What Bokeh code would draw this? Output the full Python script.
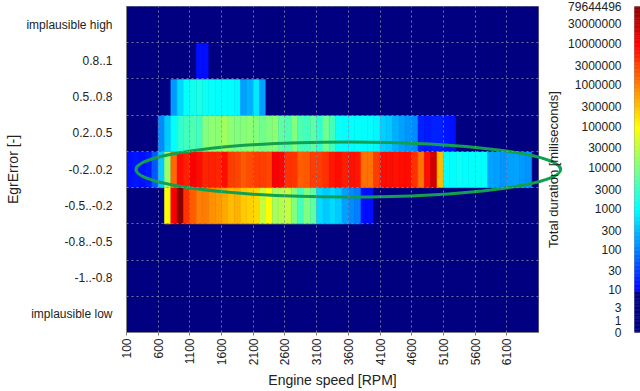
import numpy as np
from bokeh.plotting import figure
from bokeh.models import (FactorRange, Range1d, FixedTicker, LinearColorMapper,
                          ColumnDataSource, CustomJSTickFormatter)
from bokeh.core.properties import value
from bokeh.layouts import row
from bokeh.embed import file_html
from bokeh.resources import INLINE

# ---------------- data ----------------
RPM_START = 100
RPM_BIN = 100
N_BINS = 65  # 100 .. 6600 RPM
RPM_END = RPM_START + RPM_BIN * N_BINS

categories = ["implausible low", "-1..-0.8", "-0.8..-0.5", "-0.5..-0.2",
              "-0.2..0.2", "0.2..0.5", "0.5..0.8", "0.8..1", "implausible high"]

x_ticks = [100, 600, 1100, 1600, 2100, 2600, 3100, 3600, 4100, 4600, 5100, 5600, 6100]

cb_ticks = [0, 1, 3, 10, 30, 100, 300, 1000, 3000, 10000, 30000, 100000, 300000,
            1000000, 3000000, 10000000, 30000000, 79644496]

# total duration [ms] per 100-RPM bin (bins start at 100, 200, ... 6500)
row_implausible_low = [0] * 65
row_m1_m08 = [0] * 65
row_m08_m05 = [0] * 65
row_m05_m02 = [0, 0, 0, 0, 0, 0, 1e5, 1e7, 79644496, 4.2e6,
               1.8e6, 1e6, 1e6, 7.4e5, 6.4e5, 4.8e5, 3.2e5, 4.2e5, 2.7e5, 2.3e5,
               2e5, 3.2e4, 1e5, 1.8e4, 2.4e4, 3.2e4, 1e4, 3200, 1e4, 5600,
               560, 370, 560, 370, 180, 130, 100, 12, 12, 2,
               2, 2, 0, 0, 0, 0, 0, 0, 0, 0,
               0, 0, 0, 0, 0, 0, 0, 0, 0, 0,
               0, 0, 0, 0, 0]
row_m02_02 = [12, 14, 13, 15, 50, 400, 15000, 1.5e6, 7.5e6, 5.6e6,
              1e7, 7.5e6, 4.9e6, 5.6e6, 4.9e6, 7.5e6, 3.2e6, 2.8e6, 2.0e6, 2.4e6,
              3.2e6, 3.2e6, 2.8e6, 1e7, 8.7e6, 4.2e6, 3.7e6, 1.8e6, 2.0e6, 3.2e6,
              3.2e6, 4.2e6, 6.5e6, 7.5e6, 6e6, 7e6, 6.5e6, 1.3e6, 1.3e6, 3.2e6,
              7.5e6, 8e6, 7e6, 7.5e6, 8e6, 4.2e6, 1.3e6, 7.5e6, 2.3e7, 3.2e5,
              1100, 1000, 1200, 1000, 1000, 1100, 1000, 200, 180, 150,
              180, 200, 160, 150, 0]
row_02_05 = [0, 0, 0, 0, 0, 130, 370, 1000, 2400, 3200,
             4200, 3200, 1e4, 1.3e4, 1.3e4, 1.8e4, 1.3e4, 1e4, 1.15e4, 1.3e4,
             1e4, 7500, 1e4, 1.3e4, 5600, 4200, 1e4, 4200, 3200, 5600,
             2400, 8000, 3200, 1200, 1000, 1000, 1100, 1000, 1000, 900,
             430, 370, 250, 180, 150, 130, 17, 15, 18, 17,
             14, 13, 5, 5, 2, 2, 0, 0, 0, 0,
             0, 0, 0, 0, 0]
row_05_08 = [0, 0, 0, 0, 0, 0, 0, 160, 500, 1100,
             1400, 1600, 1300, 1100, 1000, 1000, 1000, 900, 180, 240,
             650, 180, 0, 0, 0, 0, 0, 0, 0, 0,
             0, 0, 0, 0, 0, 0, 0, 0, 0, 0,
             0, 0, 0, 0, 0, 0, 0, 0, 0, 0,
             0, 0, 0, 0, 0, 0, 0, 0, 0, 0,
             0, 0, 0, 0, 0]
row_08_1 = [0] * 11 + [12, 12] + [0] * 52
row_implausible_high = [0] * 65

row_values = [row_implausible_low, row_m1_m08, row_m08_m05, row_m05_m02,
              row_m02_02, row_02_05, row_05_08, row_08_1, row_implausible_high]

# highlight ellipse (data units)
ELLIPSE_CENTER_RPM = 3600
ELLIPSE_ROW = "-0.2..0.2"
ELLIPSE_WIDTH_RPM = 6700
ELLIPSE_HEIGHT_ROWS = 1.52

CB_TITLE = "Total duration [miliseconds]"

# ---------------- colour mapping (jet on log10(1+v)) ----------------
def jet_hex(t):
    r = min(max(1.5 - abs(4 * t - 3), 0), 1)
    g = min(max(1.5 - abs(4 * t - 2), 0), 1)
    b = min(max(1.5 - abs(4 * t - 1), 0), 1)
    return "#%02x%02x%02x" % (int(round(r * 255)), int(round(g * 255)), int(round(b * 255)))

palette = []
for i in range(256):
    t = i / 255
    palette.append("#000080" if t < 0.125 else jet_hex(t))
mapper = LinearColorMapper(palette=palette, low=0, high=8)

FONT = "Liberation Sans"
TXT = "#222222"

xs, ys, zs = [], [], []
for cat, vals in zip(categories, row_values):
    for k, v in enumerate(vals):
        xs.append(RPM_START + RPM_BIN * (k + 0.5))
        ys.append(cat)
        zs.append(float(np.log10(1 + v)))
src = ColumnDataSource(dict(x=xs, y=ys, z=zs))

H = 391
TOP = 6
BOTTOM = 54

p = figure(width=565, height=H, x_range=Range1d(RPM_START, RPM_END),
           y_range=FactorRange(factors=categories), output_backend="svg",
           toolbar_location=None, min_border_left=126, min_border_right=27,
           min_border_top=TOP, min_border_bottom=BOTTOM)
p.background_fill_color = "#000080"
p.border_fill_color = "white"
p.outline_line_color = "#909090"

p.rect(x="x", y="y", width=RPM_BIN, height=1, source=src,
       fill_color={"field": "z", "transform": mapper},
       line_color={"field": "z", "transform": mapper}, line_width=0.6)

ell = p.ellipse(x=[ELLIPSE_CENTER_RPM], y=[ELLIPSE_ROW], width=ELLIPSE_WIDTH_RPM,
                height=ELLIPSE_HEIGHT_ROWS, fill_color=None, line_color="#12a050",
                line_width=3)
ell.level = "overlay"

# colour-scale title just right of the plot frame, vertically centred, reading upward
ttl = p.text(x=[RPM_END], y=[len(categories) / 2], text=[CB_TITLE], angle=np.pi / 2,
             x_offset=15, text_align="center", text_baseline="middle",
             text_font=value(FONT), text_font_size=value("13px"), text_color=TXT)
ttl.level = "overlay"

# grid
p.xgrid.ticker = FixedTicker(ticks=x_ticks)
p.ygrid.ticker = FixedTicker(ticks=list(range(1, len(categories))))
for g in (p.xgrid, p.ygrid):
    g.grid_line_color = "#9090b0"
    g.grid_line_dash = "2 3"
    g.grid_line_width = 1
    g.grid_line_alpha = 0.8
    g.level = "overlay"

# x axis
p.xaxis.ticker = FixedTicker(ticks=x_ticks)
p.xaxis.major_label_orientation = np.pi / 2
p.xaxis.axis_label = "Engine speed [RPM]"
p.xaxis.major_tick_out = 3
p.xaxis.major_tick_in = 0
p.xaxis.minor_tick_line_color = None
p.xaxis.major_label_standoff = 3
p.xaxis.axis_label_standoff = 4

# y axis
p.yaxis.axis_label = "EgrError [-]"
p.yaxis.major_label_standoff = 8
p.yaxis.axis_label_standoff = 2

for ax in (p.xaxis, p.yaxis):
    ax.axis_line_color = "#808080"
    ax.major_label_text_font = FONT
    ax.major_label_text_font_size = "12px"
    ax.major_label_text_color = TXT
    ax.axis_label_text_font = FONT
    ax.axis_label_text_font_size = "14px"
    ax.axis_label_text_font_style = "normal"
    ax.axis_label_text_color = TXT
p.xaxis.major_tick_line_color = "#808080"
p.yaxis.major_tick_line_color = None

# ---------------- colour bar ----------------
zmax = float(np.log10(1 + cb_ticks[-1]))
levels = np.linspace(0, zmax, 240)
src2 = ColumnDataSource(dict(bottom=levels[:-1], top=levels[1:],
                             z=(levels[:-1] + levels[1:]) / 2))
p2 = figure(width=75, height=H, x_range=Range1d(0, 1), y_range=Range1d(0, zmax),
            output_backend="svg", toolbar_location=None,
            min_border_left=63, min_border_right=0,
            min_border_top=TOP, min_border_bottom=BOTTOM)
p2.quad(left=0, right=1, bottom="bottom", top="top", source=src2,
        fill_color={"field": "z", "transform": mapper},
        line_color={"field": "z", "transform": mapper}, line_width=0.6)
p2.xaxis.visible = False
p2.grid.visible = False
p2.outline_line_color = "#a0a0a0"
p2.yaxis.ticker = FixedTicker(ticks=[float(np.log10(1 + v)) for v in cb_ticks])
p2.yaxis.formatter = CustomJSTickFormatter(code="return Math.round(Math.pow(10, tick) - 1).toString();")
p2.yaxis.major_tick_line_color = None
p2.yaxis.minor_tick_line_color = None
p2.yaxis.axis_line_color = None
p2.yaxis.major_label_standoff = 7
p2.yaxis.major_label_text_font = FONT
p2.yaxis.major_label_text_font_size = "12px"
p2.yaxis.major_label_text_color = TXT

layout = row(p, p2)
open("out.html", "w").write(file_html(layout, INLINE))
